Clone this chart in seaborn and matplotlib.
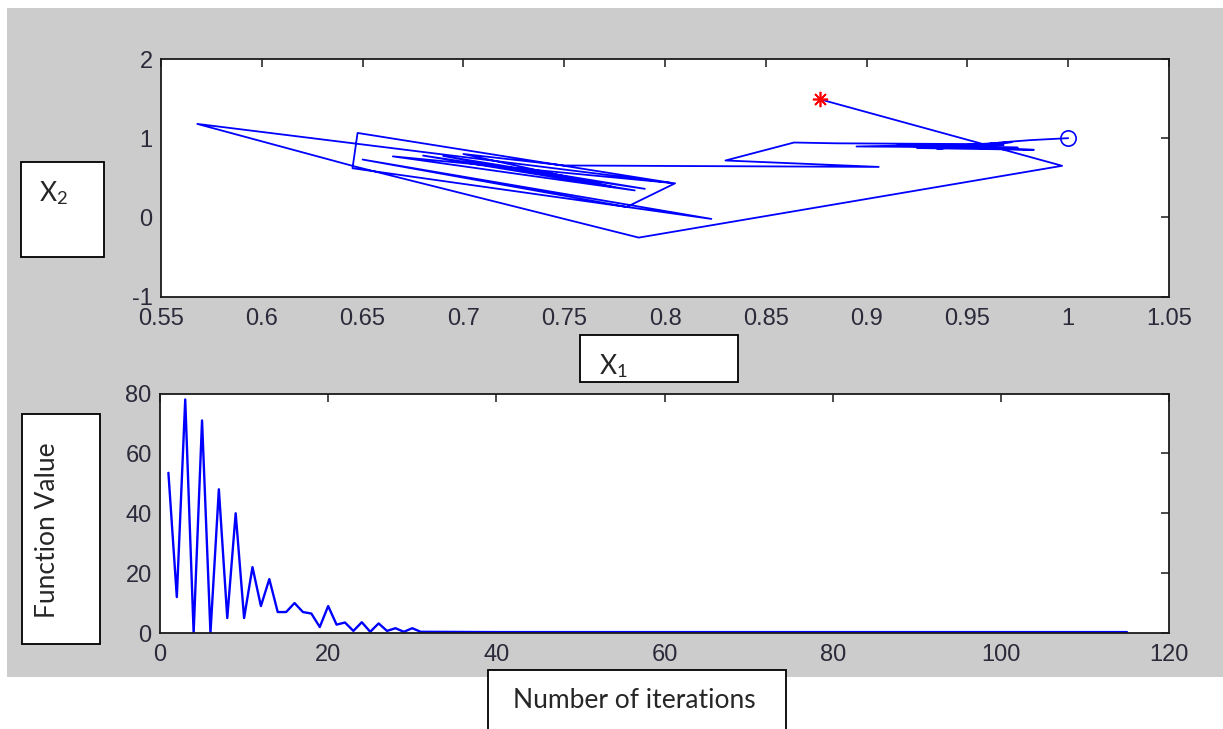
import matplotlib
matplotlib.use("Agg")
import matplotlib.pyplot as plt
from matplotlib.patches import Rectangle
import seaborn as sns
import pandas as pd

# Search path in the (x1, x2) plane
x1_path = [0.877, 0.997, 0.787, 0.6465, 0.568, 0.803, 0.6475, 0.645, 0.823,
           0.650, 0.781, 0.805, 0.665, 0.785, 0.680, 0.790, 0.690, 0.775,
           0.700, 0.750, 0.906, 0.830, 0.864, 0.885, 0.955, 0.895, 0.975,
           0.915, 0.983, 0.925, 0.962, 0.935, 0.972, 0.945, 0.968, 0.955,
           0.966, 0.981, 1.000]
x2_path = [1.490, 0.651, -0.256, 0.640, 1.180, 0.436, 1.066, 0.620, -0.020,
           0.730, 0.131, 0.430, 0.770, 0.340, 0.780, 0.360, 0.775, 0.380,
           0.800, 0.655, 0.637, 0.718, 0.945, 0.935, 0.925, 0.895, 0.880,
           0.905, 0.853, 0.875, 0.935, 0.865, 0.950, 0.900, 0.915, 0.905,
           0.945, 0.975, 1.000]
start_point = (0.877, 1.490)
end_point = (1.000, 1.000)

# Function value per iteration
iterations = [1, 2, 3, 4, 5, 6, 7, 8, 9, 10, 11, 12, 13, 14, 15, 16, 17, 18,
              19, 20, 21, 22, 23, 24, 25, 26, 27, 28, 29, 30, 31, 40, 60, 80,
              100, 115]
f_values = [53.5, 12, 78, 0, 71, 0, 48, 5, 40, 5, 22, 9, 18, 7, 7, 10, 7, 6.5,
            2, 9, 2.8, 3.5, 0.7, 3.6, 0.4, 3.2, 0.7, 1.6, 0.4, 1.6, 0.4, 0.3,
            0.3, 0.3, 0.3, 0.3]

x1_ticks = [0.55, 0.6, 0.65, 0.7, 0.75, 0.8, 0.85, 0.9, 0.95, 1, 1.05]
x1_ticklabels = ["0.55", "0.6", "0.65", "0.7", "0.75", "0.8", "0.85", "0.9",
                 "0.95", "1", "1.05"]
x2_ticks = [-1, 0, 1, 2]
iter_ticks = [0, 20, 40, 60, 80, 100, 120]
f_ticks = [0, 20, 40, 60, 80]

sns.set_theme(style="white")
plt.rcParams["font.family"] = ["Liberation Sans", "DejaVu Sans"]
plt.rcParams["axes.unicode_minus"] = False
plt.rcParams["mathtext.fontset"] = "custom"
plt.rcParams["mathtext.rm"] = "Lato"
plt.rcParams["mathtext.it"] = "Lato:italic"

W, H = 1223, 729
fig = plt.figure(figsize=(W / 100, H / 100), dpi=100, facecolor="white")


def fx(px):
    return px / W


def fy(py):
    return 1 - py / H


# grey figure panel
fig.patches.append(Rectangle((fx(7), fy(677)), fx(W - 7), (677 - 8) / H,
                             transform=fig.transFigure, facecolor="#cccccc",
                             edgecolor="none", zorder=-10))

ax_top = fig.add_axes([fx(161), fy(296.5), fx(1169 - 161), (296.5 - 59) / H])
ax_bot = fig.add_axes([fx(160), fy(633), fx(1169 - 160), (633 - 393.5) / H])

path_df = pd.DataFrame({"x1": x1_path, "x2": x2_path})
sns.lineplot(data=path_df, x="x1", y="x2", sort=False, estimator=None,
             color="#0000ff", linewidth=1.3, ax=ax_top)
ax_top.plot([start_point[0]], [start_point[1]], linestyle="none",
            marker=(8, 2, 0), markersize=11, markeredgewidth=1.2,
            color="#ff0000")
ax_top.plot([end_point[0]], [end_point[1]], linestyle="none", marker="o",
            markersize=11, markerfacecolor="none", markeredgewidth=1.2,
            markeredgecolor="#0000ff")

f_df = pd.DataFrame({"iteration": iterations, "f": f_values})
sns.lineplot(data=f_df, x="iteration", y="f", sort=False, estimator=None,
             color="#0000ff", linewidth=1.7, ax=ax_bot)

ax_top.set_xlim(0.55, 1.05)
ax_top.set_ylim(-1, 2)
ax_top.set_xticks(x1_ticks)
ax_top.set_xticklabels(x1_ticklabels)
ax_top.set_yticks(x2_ticks)
ax_bot.set_xlim(0, 120)
ax_bot.set_ylim(0, 80)
ax_bot.set_xticks(iter_ticks)
ax_bot.set_yticks(f_ticks)

for ax in (ax_top, ax_bot):
    ax.set_facecolor("white")
    ax.set_xlabel("")
    ax.set_ylabel("")
    for sp in ax.spines.values():
        sp.set_visible(True)
        sp.set_color("#1a1a1a")
        sp.set_linewidth(1.3)
    ax.tick_params(direction="in", length=6, width=1.1, color="#1a1a1a",
                   top=True, right=True, labelsize=17,
                   labelcolor="#2a2a3a")
    ax.tick_params(axis="x", pad=8)
    ax.tick_params(axis="y", pad=6)

# label boxes
def label_box(x0, y0, x1, y1):
    fig.patches.append(Rectangle((fx(x0), fy(y1)), fx(x1 - x0), (y1 - y0) / H,
                                 transform=fig.transFigure, facecolor="white",
                                 edgecolor="black", linewidth=1.3, zorder=5))


box_font = ["Lato", "DejaVu Sans"]
label_box(21, 162, 104, 257)
fig.text(fx(39), fy(193), r"$\mathrm{X}_2$", fontsize=19,
         ha="left", va="center", zorder=6)
label_box(580, 335, 738, 382)
fig.text(fx(599), fy(366), r"$\mathrm{X}_1$", fontsize=19,
         ha="left", va="center", zorder=6)
label_box(22, 414, 100, 644)
fig.text(fx(48), fy(530), "Function Value", family=box_font, fontsize=19,
         rotation=90, ha="center", va="center", zorder=6)
label_box(488, 670, 786, 740)
fig.text(fx(634), fy(700), "Number of iterations", family=box_font,
         fontsize=19, ha="center", va="center", zorder=6)

fig.savefig("out.png", dpi=100, facecolor="white")
